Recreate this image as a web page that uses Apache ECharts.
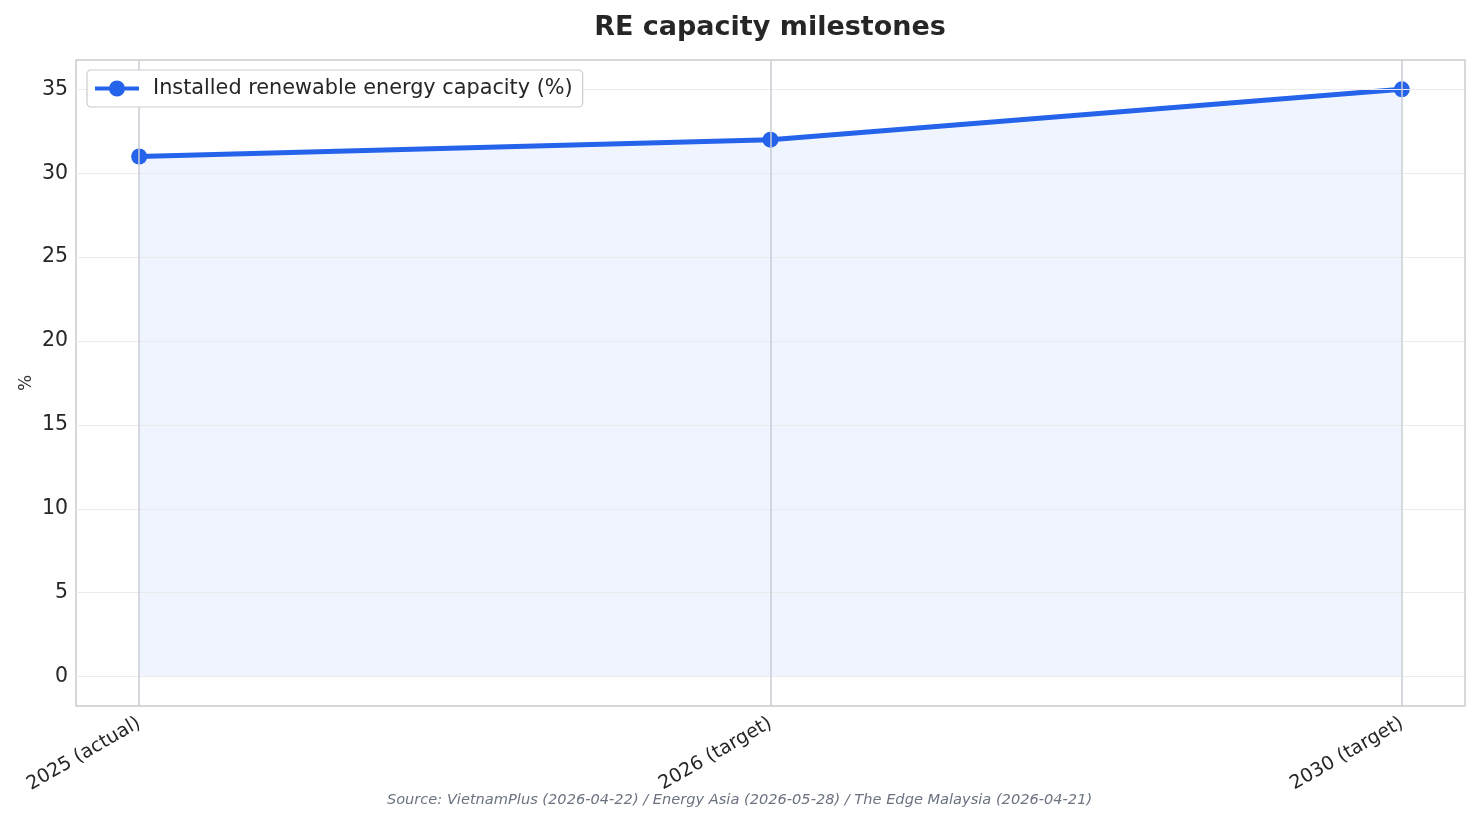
<!DOCTYPE html>
<html>
<head>
<meta charset="utf-8">
<script src="https://cdn.jsdelivr.net/npm/echarts@6/dist/echarts.min.js"></script>
<style>
  html, body { margin: 0; padding: 0; background: #fff; }
  #chart { width: 1479px; height: 823px; }
</style>
</head>
<body>
<div id="chart"></div>
<script>
const categories = ['2025 (actual)', '2026 (target)', '2030 (target)'];
const capacity = [31, 32, 35];
const yTicks = [0, 5, 10, 15, 20, 25, 30, 35];
const seriesName = 'Installed renewable energy capacity (%)';

const font = 'DejaVu Sans';
const blue = '#2563eb';
// legend glyph: thick line with a dot in the middle (44 x 16 box)
const legendIcon = 'path://M0,8 L44,8 L44,12 L0,12 Z M14,10 A8,8 0 1,1 30,10 A8,8 0 1,1 14,10 Z';

const chart = echarts.init(document.getElementById('chart'));

chart.setOption({
    animation: false,
    textStyle: { fontFamily: font },
    title: {
        text: 'RE capacity milestones',
        left: 765,
        textAlign: 'center',
        top: 9,
        textStyle: { fontSize: 27, fontWeight: 'bold', color: '#262626', fontFamily: font }
    },
    graphic: [{
        type: 'text',
        left: 'center',
        top: 793,
        style: {
            text: 'Source: VietnamPlus (2026-04-22) / Energy Asia (2026-05-28) / The Edge Malaysia (2026-04-21)',
            fontSize: 14.6,
            fontStyle: 'italic',
            fontFamily: font,
            fill: '#6b7280'
        }
    }],
    legend: {
        left: 87,
        top: 70,
        z: 10,
        orient: 'vertical',
        padding: [8, 10, 8, 8],
        backgroundColor: '#ffffff',
        borderColor: '#cccccc',
        borderWidth: 1.2,
        borderRadius: 4,
        icon: legendIcon,
        itemWidth: 44,
        itemHeight: 16,
        itemGap: 8,
        itemStyle: { color: blue, borderWidth: 0 },
        textStyle: { fontSize: 20.8, color: '#262626', fontFamily: font, padding: [0, 0, 0, 9] },
        data: [seriesName]
    },
    grid: {
        left: 76, right: 14, top: 60, bottom: 117,
        show: true, borderColor: '#cccccc', borderWidth: 1.5
    },
    xAxis: {
        type: 'value',
        min: -0.1,
        max: 2.1,
        axisLine: { show: false },
        axisTick: { show: false },
        splitLine: { show: false },
        axisLabel: {
            customValues: categories.map((c, i) => i),
            formatter: v => categories[Math.round(v)] || '',
            rotate: 30,
            fontSize: 19,
            color: '#262626',
            margin: 16
        }
    },
    yAxis: {
        type: 'value',
        min: -1.75,
        max: 36.75,
        name: '%',
        nameLocation: 'middle',
        nameGap: 41,
        nameMoveOverlap: false,
        nameTextStyle: { fontSize: 17, color: '#333' },
        axisLine: { show: false },
        axisTick: { show: false },
        splitLine: { show: false },
        axisLabel: {
            customValues: yTicks,
            fontSize: 20.5,
            color: '#262626',
            margin: 8
        }
    },
    series: [
        {
            type: 'line',
            data: [],
            silent: true,
            z: 1,
            markLine: {
                silent: true,
                symbol: 'none',
                label: { show: false },
                data: yTicks.map(t => ({ yAxis: t, lineStyle: { color: '#ebebeb', width: 1.2, type: 'solid' } }))
                    .concat(categories.map((c, i) => ({ xAxis: i, lineStyle: { color: '#c8ccd6', width: 1.5, type: 'solid' } })))
            }
        },
        {
            name: seriesName,
            type: 'line',
            z: 3,
            data: capacity.map((v, i) => [i, v]),
            symbol: 'circle',
            symbolSize: 16,
            itemStyle: { color: blue },
            lineStyle: { color: blue, width: 5 },
            areaStyle: { color: 'rgba(37,99,235,0.1)', origin: 0 }
        }
    ]
});
</script>
</body>
</html>
